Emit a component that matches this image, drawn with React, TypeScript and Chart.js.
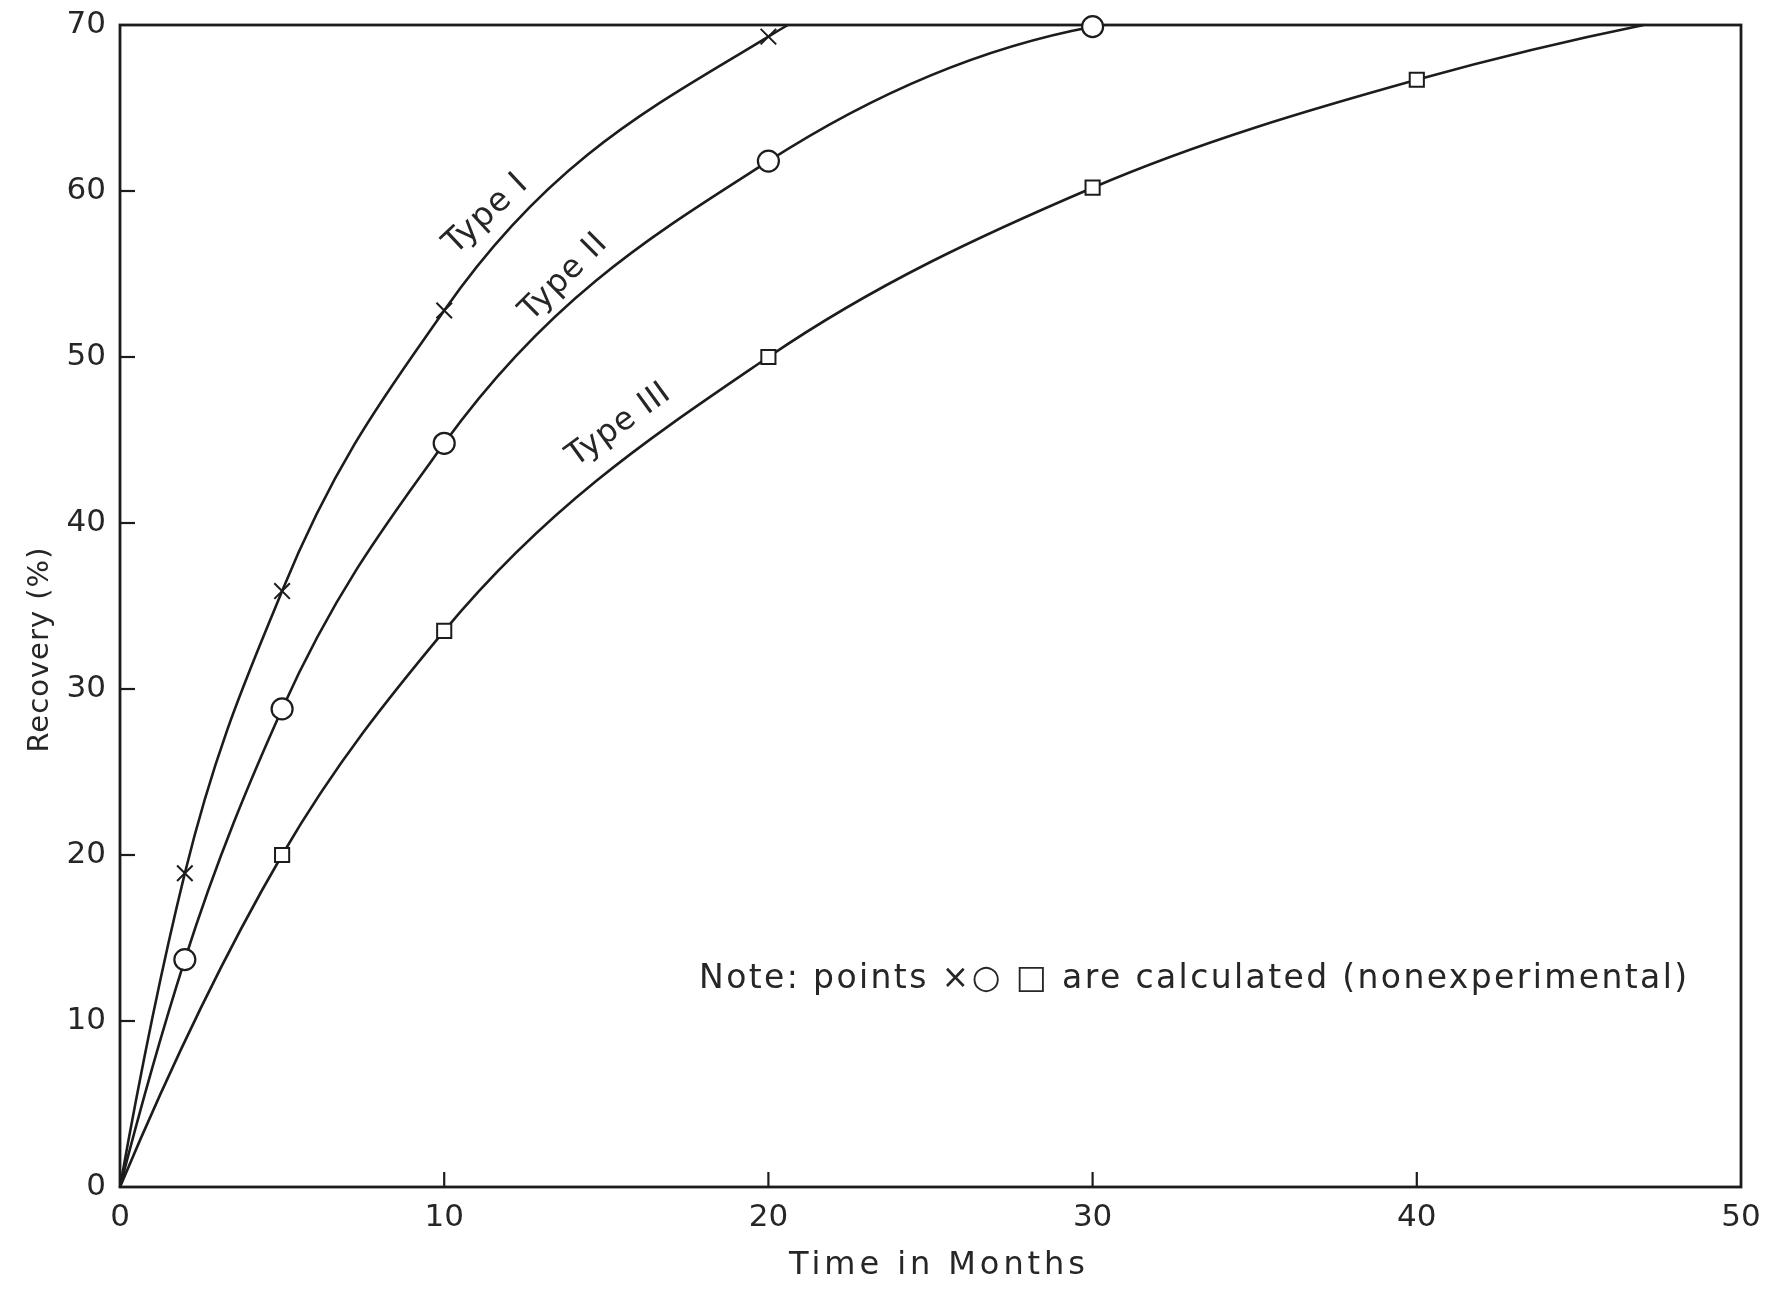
import React, { useEffect, useRef } from 'react';
import { Chart, registerables } from 'chart.js';

Chart.register(...registerables);

// ---- data ----
const typeIMonths = [0, 2, 5, 10, 20, 20.6];
const typeIRecovery = [0, 18.9, 35.9, 52.8, 69.3, 70];
const typeIIMonths = [0, 2, 5, 10, 20, 30];
const typeIIRecovery = [0, 13.7, 28.8, 44.8, 61.8, 69.9];
const typeIIIMonths = [0, 5, 10, 20, 30, 40, 47];
const typeIIIRecovery = [0, 20.0, 33.5, 50.0, 60.2, 66.7, 70];
// which points carry a calculated-point marker (origin and curve ends do not)
const typeIMarked = [false, true, true, true, true, false];
const typeIIMarked = [false, true, true, true, true, true];
const typeIIIMarked = [false, true, true, true, true, true, false];

const seriesNames = ['Type I', 'Type II', 'Type III'];
const xTickValues = [0, 10, 20, 30, 40, 50];
const yTickValues = [0, 10, 20, 30, 40, 50, 60, 70];
const xTitle = 'Time in Months';
const yTitle = 'Recovery (%)';
const noteText = 'Note: points ×○ □ are calculated (nonexperimental)';

// ---- styling / annotation placement ----
const INK = '#1c1c1c';
const TEXT = '#262626';
const FONT = '"DejaVu Sans", "Liberation Sans", sans-serif';
const curveLabelPlacement = [
  { x: 11.3, y: 58.6, angle: -43, size: 33 },
  { x: 13.7, y: 54.8, angle: -45, size: 32 },
  { x: 15.4, y: 45.9, angle: -36, size: 32 },
];
const notePlacement = { x: 33.1, y: 12.5 };

function setSpacedFont(ctx: CanvasRenderingContext2D, text: string, font: string, targetWidth: number) {
  ctx.font = font;
  (ctx as any).letterSpacing = '0px';
  const w = ctx.measureText(text).width;
  const n = Array.from(text).length;
  const sp = (targetWidth - w) / Math.max(1, n - 1);
  (ctx as any).letterSpacing = `${sp}px`;
  return sp;
}

// Smooth concave curves: tangents from a three-point parabola at every point
// (Bessel tangents), applied to the control points of Chart.js' own line element.
const smoothPlugin = {
  id: 'smoothCurves',
  beforeDatasetDraw(chart: any, args: any) {
    const meta = args.meta;
    const line = meta.dataset;
    const pts = meta.data;
    const n = pts.length;
    if (!line || n < 3) return;
    const h: number[] = [];
    const d: number[] = [];
    for (let i = 0; i < n - 1; i++) {
      h.push(pts[i + 1].x - pts[i].x);
      d.push((pts[i + 1].y - pts[i].y) / (pts[i + 1].x - pts[i].x));
    }
    const m: number[] = new Array(n);
    for (let i = 1; i < n - 1; i++) {
      m[i] = (h[i] * d[i - 1] + h[i - 1] * d[i]) / (h[i - 1] + h[i]);
    }
    m[0] = ((2 * h[0] + h[1]) * d[0] - h[0] * d[1]) / (h[0] + h[1]);
    const L = n - 2;
    m[n - 1] = ((2 * h[L] + h[L - 1]) * d[L] - h[L] * d[L - 1]) / (h[L] + h[L - 1]);
    for (let i = 0; i < n; i++) {
      const p = pts[i];
      const hPrev = i > 0 ? h[i - 1] : 0;
      const hNext = i < n - 1 ? h[i] : 0;
      p.cp1x = p.x - hPrev / 3;
      p.cp1y = p.y - (m[i] * hPrev) / 3;
      p.cp2x = p.x + hNext / 3;
      p.cp2y = p.y + (m[i] * hNext) / 3;
    }
    line._pointsUpdated = true;
    line._path = undefined;
  },
};

const decorPlugin = {
  id: 'decor',
  beforeDatasetsDraw(chart: any) {
    const { ctx, chartArea: a, scales } = chart;
    const xs = scales.x;
    const ys = scales.y;
    ctx.save();
    ctx.strokeStyle = INK;
    ctx.lineWidth = 2.8;
    ctx.strokeRect(a.left, a.top, a.right - a.left, a.bottom - a.top);
    ctx.lineWidth = 2.2;
    xs.ticks.forEach((t: any) => {
      if (t.value <= xs.min || t.value >= xs.max) return;
      const px = xs.getPixelForValue(t.value);
      ctx.beginPath();
      ctx.moveTo(px, a.bottom);
      ctx.lineTo(px, a.bottom - 15);
      ctx.stroke();
    });
    ys.ticks.forEach((t: any) => {
      if (t.value <= ys.min || t.value >= ys.max) return;
      const py = ys.getPixelForValue(t.value);
      ctx.beginPath();
      ctx.moveTo(a.left, py);
      ctx.lineTo(a.left + 15, py);
      ctx.stroke();
    });
    ctx.restore();
  },
  afterDraw(chart: any) {
    const { ctx, scales } = chart;
    const xs = scales.x;
    const ys = scales.y;
    ctx.save();
    ctx.fillStyle = TEXT;
    ctx.textAlign = 'center';
    ctx.textBaseline = 'middle';

    seriesNames.forEach((name, i) => {
      const p = curveLabelPlacement[i];
      const px = xs.getPixelForValue(p.x);
      const py = ys.getPixelForValue(p.y);
      ctx.save();
      ctx.translate(px, py);
      ctx.rotate((p.angle * Math.PI) / 180);
      ctx.font = `${p.size}px ${FONT}`;
      (ctx as any).letterSpacing = '1px';
      ctx.fillText(name, 0, 0);
      ctx.restore();
    });

    {
      const px = xs.getPixelForValue(notePlacement.x);
      const py = ys.getPixelForValue(notePlacement.y);
      const sp = setSpacedFont(ctx, noteText, `33px ${FONT}`, 988);
      ctx.fillText(noteText, px + sp / 2, py);
    }

    {
      const sp = setSpacedFont(ctx, xTitle, `32px ${FONT}`, 296);
      ctx.fillText(xTitle, xs.getPixelForValue(25.2) + sp / 2, 1266);
    }
    {
      ctx.save();
      ctx.translate(40, 650);
      ctx.rotate(-Math.PI / 2);
      const sp = setSpacedFont(ctx, yTitle, `29px ${FONT}`, 205);
      ctx.fillText(yTitle, sp / 2, 0);
      ctx.restore();
    }
    ctx.restore();
  },
};

function toPoints(xs: number[], ys: number[]) {
  return xs.map((x, i) => ({ x, y: ys[i] }));
}

export default function App() {
  const canvasRef = useRef<HTMLCanvasElement | null>(null);

  useEffect(() => {
    const canvas = canvasRef.current;
    if (!canvas) return;
    const common = {
      borderColor: INK,
      borderWidth: 2.6,
      showLine: true,
      fill: false,
      cubicInterpolationMode: 'monotone' as const,
      clip: false as any,
      pointBorderColor: INK,
      pointBackgroundColor: '#ffffff',
    };
    const chart = new Chart(canvas, {
      type: 'line',
      data: {
        datasets: [
          {
            ...common,
            label: seriesNames[0],
            data: toPoints(typeIMonths, typeIRecovery),
            pointStyle: 'crossRot',
            pointRadius: typeIMarked.map((m) => (m ? 11 : 0)),
            pointBorderWidth: 2,
          },
          {
            ...common,
            label: seriesNames[1],
            data: toPoints(typeIIMonths, typeIIRecovery),
            pointStyle: 'circle',
            pointRadius: typeIIMarked.map((m) => (m ? 10.5 : 0)),
            pointBorderWidth: 2.2,
          },
          {
            ...common,
            label: seriesNames[2],
            data: toPoints(typeIIIMonths, typeIIIRecovery),
            pointStyle: 'rect',
            pointRadius: typeIIIMarked.map((m) => (m ? 10 : 0)),
            pointBorderWidth: 2,
          },
        ],
      },
      options: {
        responsive: false,
        animation: false,
        events: [],
        layout: { padding: { left: 0, right: 41, top: 25, bottom: 0 } },
        plugins: {
          legend: { display: false },
          tooltip: { enabled: false },
          title: { display: false },
        },
        scales: {
          x: {
            type: 'linear',
            min: 0,
            max: 50,
            afterFit: (s: any) => {
              s.height = 103;
            },
            afterBuildTicks: (s: any) => {
              s.ticks = xTickValues.map((v) => ({ value: v }));
            },
            grid: { display: false },
            border: { display: false },
            ticks: {
              padding: 4,
              color: TEXT,
              font: { family: FONT, size: 31 },
              maxRotation: 0,
            },
          },
          y: {
            type: 'linear',
            min: 0,
            max: 70,
            afterFit: (s: any) => {
              s.width = 120;
            },
            afterBuildTicks: (s: any) => {
              s.ticks = yTickValues.map((v) => ({ value: v }));
            },
            grid: { display: false },
            border: { display: false },
            ticks: {
              padding: 6,
              color: TEXT,
              font: { family: FONT, size: 31 },
            },
          },
        },
      },
      plugins: [smoothPlugin, decorPlugin],
    });
    return () => chart.destroy();
  }, []);

  return (
    <div style={{ position: 'absolute', left: 0, top: 0, width: 1782, height: 1290, background: '#ffffff' }}>
      <canvas ref={canvasRef} width={1782} height={1290} style={{ display: 'block' }} />
    </div>
  );
}
